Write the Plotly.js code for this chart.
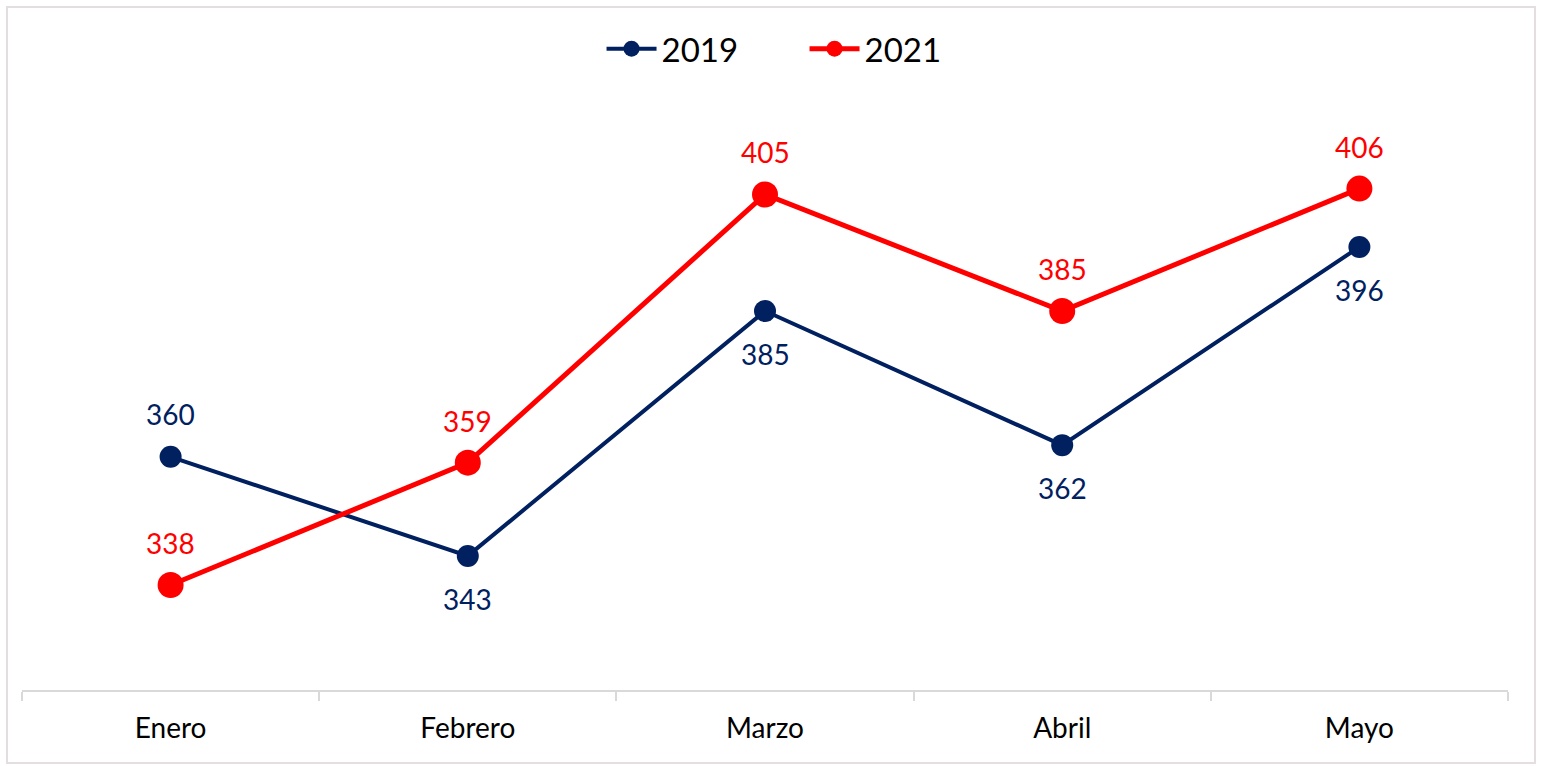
<!DOCTYPE html>
<html>
<head>
<meta charset="utf-8">
<script src="https://cdn.plot.ly/plotly-3.0.1.min.js"></script>
<style>
  html, body { margin: 0; padding: 0; background: #ffffff; }
  #chart { position: absolute; left: 0; top: 0; width: 1541px; height: 766px; }
  #frame { position: absolute; left: 6px; top: 6px; width: 1526px; height: 754px;
           border: 2px solid #e4dee1; pointer-events: none; }
</style>
</head>
<body>
<div id="chart"></div>
<div id="frame"></div>
<script>
const months = ["Enero", "Febrero", "Marzo", "Abril", "Mayo"];
const values2019 = [360, 343, 385, 362, 396];
const values2021 = [338, 359, 405, 385, 406];
// label placement for 2019 series: +1 above, -1 below
const labelSide2019 = [1, -1, -1, -1, -1];
const labelSide2021 = [1, 1, 1, 1, 1];

const navy = "#002060";
const red = "#FF0000";
const fontFam = "Lato, 'Open Sans', sans-serif";

const traces = [
  {
    x: months, y: values2019, name: "2019", type: "scatter", mode: "lines+markers",
    line: { color: navy, width: 4 },
    marker: { color: navy, size: 22 },
    hoverinfo: "skip"
  },
  {
    x: months, y: values2021, name: "2021", type: "scatter", mode: "lines+markers",
    line: { color: red, width: 5 },
    marker: { color: red, size: 26 },
    hoverinfo: "skip"
  }
];

const annotations = [];
months.forEach((m, i) => {
  annotations.push({
    x: m, y: values2019[i], xref: "x", yref: "y", text: String(values2019[i]),
    showarrow: false, yshift: 43 * labelSide2019[i], yanchor: "middle",
    font: { family: fontFam, size: 28, color: navy }
  });
  annotations.push({
    x: m, y: values2021[i], xref: "x", yref: "y", text: String(values2021[i]),
    showarrow: false, yshift: 42 * labelSide2021[i], yanchor: "middle",
    font: { family: fontFam, size: 28, color: red }
  });
});

const layout = {
  width: 1541, height: 766,
  margin: { l: 22, r: 33, t: 107, b: 76 },
  paper_bgcolor: "#ffffff", plot_bgcolor: "#ffffff",
  showlegend: true,
  legend: {
    orientation: "h", x: 0.390, xanchor: "left", y: 1.1, yanchor: "middle",
    font: { family: fontFam, size: 33, color: "#000000" },
    entrywidth: 138, entrywidthmode: "pixels",
    itemwidth: 50
  },
  xaxis: {
    type: "category", range: [-0.5, 4.5],
    showline: true, linecolor: "#d9d9d9", linewidth: 2,
    ticks: "outside", tickson: "boundaries", ticklen: 9, tickcolor: "#d9d9d9", tickwidth: 2,
    showgrid: false, zeroline: false,
    tickfont: { family: fontFam, size: 28, color: "#000000" },
    ticklabelstandoff: 12
  },
  yaxis: {
    range: [320, 420], visible: false, showgrid: false, zeroline: false
  },
  annotations: annotations
};

Plotly.newPlot("chart", traces, layout, { displayModeBar: false, staticPlot: true });
</script>
</body>
</html>
